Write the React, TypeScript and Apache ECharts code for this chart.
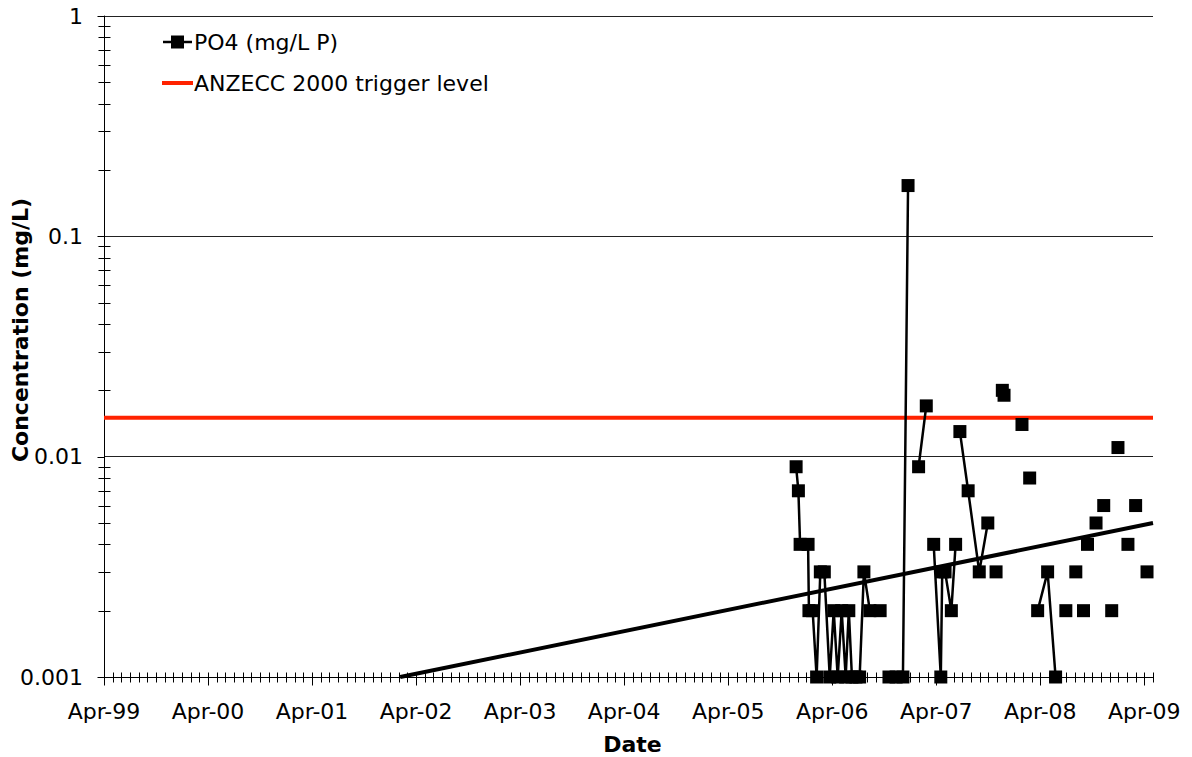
import React, { useEffect, useRef } from 'react';
import * as echarts from 'echarts';

// Axis range and tick labels
const axisStart = '1999-04-01';
const axisEnd = '2009-05-01';
const xTickLabels = ['Apr-99', 'Apr-00', 'Apr-01', 'Apr-02', 'Apr-03', 'Apr-04', 'Apr-05', 'Apr-06', 'Apr-07', 'Apr-08', 'Apr-09'];
const yTickValues = [0.001, 0.01, 0.1, 1];
const yTickLabels = ['0.001', '0.01', '0.1', '1'];
const xTitle = 'Date';
const yTitle = 'Concentration (mg/L)';

// Sampling dates and PO4 results (null = no PO4 result on that sampling run)
const sampleDates = [
  '2005-11-25', '2005-12-03', '2005-12-09', '2006-01-06', '2006-01-09', '2006-01-22', '2006-02-05',
  '2006-02-18', '2006-03-04', '2006-03-23', '2006-04-06', '2006-04-20', '2006-05-04', '2006-05-18',
  '2006-05-29', '2006-06-09', '2006-06-23', '2006-07-06', '2006-07-21', '2006-08-11', '2006-09-16',
  '2006-10-02', '2006-10-17', '2006-11-11', '2006-12-05', '2006-12-23', '2007-01-10', '2007-01-29',
  '2007-02-25', '2007-03-10', '2007-03-23', '2007-04-17', '2007-04-22', '2007-05-02', '2007-05-24',
  '2007-06-08', '2007-06-15', '2007-06-23', '2007-07-22', '2007-08-30', '2007-09-29', '2007-10-14',
  '2007-10-28', '2007-11-08', '2007-11-19', '2007-11-22', '2007-11-25', '2007-12-26', '2008-01-27',
  '2008-02-10', '2008-02-23', '2008-03-08', '2008-03-22', '2008-04-26', '2008-05-24', '2008-06-10',
  '2008-06-29', '2008-07-15', '2008-08-03', '2008-08-16', '2008-08-30', '2008-09-06', '2008-09-13',
  '2008-09-28', '2008-10-13', '2008-10-26', '2008-11-09', '2008-11-22', '2008-12-07', '2008-12-18',
  '2008-12-29', '2009-01-15', '2009-02-02', '2009-02-15', '2009-03-01', '2009-03-20', '2009-04-10',
];
const po4Values = [
  0.009, 0.007, 0.004, 0.004, 0.002, 0.002, 0.001,
  0.003, 0.003, 0.001, 0.002, 0.001, 0.002, 0.001,
  0.002, 0.001, 0.001, 0.001, 0.003, 0.002, 0.002,
  null, 0.001, 0.001, 0.001, 0.17, null, 0.009,
  0.017, null, 0.004, 0.001, 0.003, 0.003, 0.002,
  0.004, null, 0.013, 0.007, 0.003, 0.005, null,
  0.003, null, 0.02, null, 0.019, null, 0.014,
  null, 0.008, null, 0.002, 0.003, 0.001, null,
  0.002, null, 0.003, null, 0.002, null, 0.004,
  null, 0.005, null, 0.006, null, 0.002, null,
  0.011, null, 0.004, null, 0.006, null, 0.003,
];

// Guideline trigger value and the fitted exponential trend (end points)
const triggerLevel = 0.015;
const trendDates = ['2002-02-04', '2009-05-01'];
const trendValues = [0.001, 0.005];

// Legend entries
const seriesNames = ['PO4 (mg/L P)', 'ANZECC 2000 trigger level'];

const FONT = '"DejaVu Sans", Verdana, sans-serif';
const RED = '#ff2200';
const DAY = 86400000;
const startMs = Date.parse(axisStart + 'T00:00:00Z');
const yearsFromStart = (iso: string) => (Date.parse(iso + 'T00:00:00Z') - startMs) / (365.25 * DAY);
const xMax = yearsFromStart(axisEnd);

// Tick marks that straddle the axes: monthly on the date axis, 2..9 on each log decade
function buildTickMarks() {
  const marks: number[][] = [];
  const months = Math.round(xMax * 12);
  for (let k = 0; k <= months; k++) {
    marks.push([k / 12, yTickValues[0], k % 12 === 0 ? 1 : 0]);
  }
  for (let e = -3; e < 0; e++) {
    for (let m = 2; m <= 9; m++) {
      marks.push([0, Number((m * Math.pow(10, e)).toPrecision(3)), 2]);
    }
  }
  yTickValues.forEach((v) => marks.push([0, v, 3]));
  return marks;
}

// Legend (line-with-square key, plain red line key) and the rotated y-axis title
function overlayGraphic() {
  const keyX = 163;
  const keyW = 29;
  const rowY = [42, 83];
  return [
    { type: 'line', shape: { x1: keyX, y1: rowY[0], x2: keyX + keyW, y2: rowY[0] }, style: { stroke: '#000', lineWidth: 2.5 } },
    { type: 'rect', shape: { x: keyX + keyW / 2 - 6.5, y: rowY[0] - 6.5, width: 13, height: 13 }, style: { fill: '#000' } },
    { type: 'text', x: keyX + keyW + 2, y: rowY[0], style: { text: seriesNames[0], font: `22px ${FONT}`, fill: '#000', verticalAlign: 'middle', align: 'left' } },
    { type: 'line', shape: { x1: keyX - 1, y1: rowY[1], x2: keyX + keyW + 1, y2: rowY[1] }, style: { stroke: RED, lineWidth: 4 } },
    { type: 'text', x: keyX + keyW + 2, y: rowY[1], style: { text: seriesNames[1], font: `22px ${FONT}`, fill: '#000', verticalAlign: 'middle', align: 'left' } },
    {
      type: 'text',
      x: 20,
      y: 330,
      rotation: Math.PI / 2,
      style: { text: yTitle, font: `bold 22px ${FONT}`, fill: '#000', align: 'center', verticalAlign: 'middle' },
    },
  ];
}

export default function App() {
  const ref = useRef<HTMLDivElement>(null);

  useEffect(() => {
    document.body.style.margin = '0';
    if (!ref.current) return;
    const chart = echarts.init(ref.current, undefined, { renderer: 'svg' });

    const po4Data = sampleDates.map((d, i) => [yearsFromStart(d), po4Values[i] == null ? '-' : po4Values[i]]);
    const trendData = trendDates.map((d, i) => [yearsFromStart(d), trendValues[i]]);
    const triggerData = [[0, triggerLevel], [xMax, triggerLevel]];

    chart.setOption({
      animation: false,
      textStyle: { fontFamily: FONT },
      grid: { left: 104, right: 39, top: 16, bottom: 80, containLabel: false, outerBoundsMode: 'none' },
      graphic: overlayGraphic(),
      xAxis: {
        type: 'value',
        min: 0,
        max: xMax,
        interval: 1,
        name: xTitle,
        nameLocation: 'middle',
        nameGap: 56,
        nameTextStyle: { fontSize: 22, fontWeight: 'bold', color: '#000', fontFamily: FONT, padding: [0, 0, 0, 8] },
        axisLine: { show: true, lineStyle: { color: '#000', width: 1 } },
        axisTick: { show: false },
        splitLine: { show: false },
        axisLabel: {
          fontSize: 22,
          color: '#000',
          margin: 23,
          fontFamily: FONT,
          formatter: (v: number) => {
            const i = Math.round(v);
            return Math.abs(v - i) < 1e-6 && xTickLabels[i] ? xTickLabels[i] : '';
          },
        },
      },
      yAxis: {
        type: 'log',
        logBase: 10,
        min: yTickValues[0],
        max: yTickValues[yTickValues.length - 1],
        splitNumber: 3,
        axisLine: { show: true, lineStyle: { color: '#000', width: 1 } },
        axisTick: { show: false },
        splitLine: { show: true, lineStyle: { color: '#222', width: 1 } },
        axisLabel: {
          fontSize: 22,
          color: '#000',
          margin: 21,
          fontFamily: FONT,
          formatter: (v: number) => {
            const i = yTickValues.findIndex((t) => Math.abs(Math.log10(t) - Math.log10(v)) < 1e-6);
            return i >= 0 ? yTickLabels[i] : '';
          },
        },
      },
      series: [
        {
          name: seriesNames[1],
          type: 'line',
          data: triggerData,
          symbol: 'none',
          lineStyle: { color: RED, width: 4 },
          itemStyle: { color: RED },
          z: 2,
          silent: true,
        },
        {
          name: seriesNames[0],
          type: 'line',
          data: po4Data,
          connectNulls: false,
          symbol: 'rect',
          symbolSize: 13,
          itemStyle: { color: '#000' },
          lineStyle: { color: '#000', width: 2.5 },
          z: 3,
        },
        {
          name: 'trend',
          type: 'line',
          data: trendData,
          symbol: 'none',
          lineStyle: { color: '#000', width: 4 },
          z: 4,
          silent: true,
        },
        {
          name: 'ticks',
          type: 'custom',
          coordinateSystem: 'cartesian2d',
          data: buildTickMarks(),
          encode: { x: 0, y: 1 },
          clip: false,
          silent: true,
          z: 5,
          renderItem: (_params: any, api: any) => {
            const p = api.coord([api.value(0), api.value(1)]);
            const kind = api.value(2);
            const px = Math.round(p[0]) + 0.5;
            const py = Math.round(p[1]) + 0.5;
            let shape;
            if (kind === 0) shape = { x1: px, y1: py - 5, x2: px, y2: py + 5 };
            else if (kind === 1) shape = { x1: px, y1: py - 5, x2: px, y2: py + 8 };
            else if (kind === 2) shape = { x1: px - 6, y1: py, x2: px + 6, y2: py };
            else shape = { x1: px - 7, y1: py, x2: px, y2: py };
            return { type: 'line', shape, style: { stroke: '#000', lineWidth: 1 } };
          },
        },
      ],
    });

    return () => chart.dispose();
  }, []);

  return <div ref={ref} style={{ width: 1192, height: 757 }} />;
}
